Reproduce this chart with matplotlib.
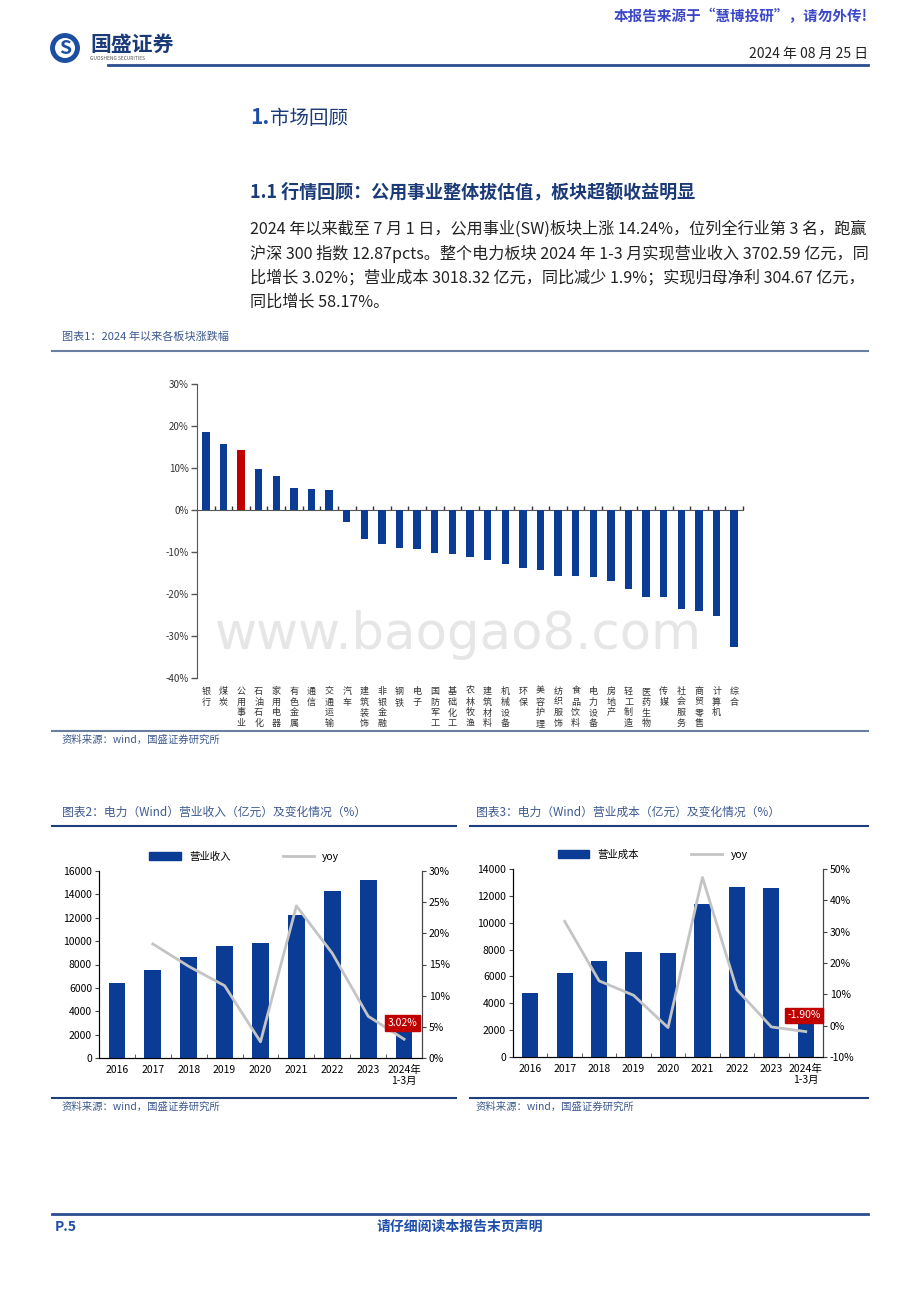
import numpy as np
import matplotlib
matplotlib.use('Agg')
import matplotlib.pyplot as plt
from matplotlib.patches import Patch, Circle
from matplotlib.lines import Line2D
from matplotlib.ticker import FixedLocator

plt.rcParams['font.family'] = ['Noto Sans CJK SC', 'DejaVu Sans']

# chart 1: sector returns since 2024 (%)
sectors = ['银行', '煤炭', '公用事业', '石油石化', '家用电器', '有色金属', '通信', '交通运输',
           '汽车', '建筑装饰', '非银金融', '钢铁', '电子', '国防军工', '基础化工', '农林牧渔',
           '建筑材料', '机械设备', '环保', '美容护理', '纺织服饰', '食品饮料', '电力设备',
           '房地产', '轻工制造', '医药生物', '传媒', '社会服务', '商贸零售', '计算机', '综合']
returns = [18.6, 15.8, 14.24, 9.7, 8.2, 5.3, 5.0, 4.7, -2.9, -6.9, -8.2, -9.0, -9.4,
           -10.2, -10.5, -11.1, -11.8, -12.8, -13.8, -14.2, -15.7, -15.8, -16.0, -16.8,
           -18.8, -20.6, -20.8, -23.5, -24.0, -25.2, -32.5]

# chart 2 / 3: revenue and cost of power sector
years = ['2016', '2017', '2018', '2019', '2020', '2021', '2022', '2023', '2024年\n1-3月']
revenue = [6430, 7570, 8680, 9620, 9850, 12240, 14260, 15200, 3702.59]
revenue_yoy = [np.nan, 18.3, 14.7, 11.6, 2.6, 24.4, 16.8, 6.7, 3.02]
cost = [4750, 6290, 7160, 7810, 7760, 11390, 12680, 12610, 3018.32]
cost_yoy = [np.nan, 33.3, 14.3, 9.7, -0.6, 47.3, 11.5, -0.4, -1.90]

W, H = 920, 1302
BLUE = '#0a3c96'
RED = '#c00000'
NAVY = '#1f3f7a'
CAP = '#3d5a8f'
GRAY = '#c4c4c4'

fig = plt.figure(figsize=(W / 100, H / 100), dpi=100)


def fx(x):
    return x / W


def fy(y):
    return 1 - y / H


def axes_px(l, t, r, b):
    return fig.add_axes([fx(l), fy(b), (r - l) / W, (b - t) / H])


def hline(x0, x1, y, color=NAVY, lw=1.5):
    fig.add_artist(Line2D([fx(x0), fx(x1)], [fy(y), fy(y)], color=color, lw=lw))


# ---- page header ----
fig.text(fx(868), fy(16), '本报告来源于“慧博投研”，请勿外传!', ha='right', va='center',
         fontsize=10.5, fontweight='bold', color='#3c48c8')
logo = axes_px(50, 33, 80, 63)
logo.set_aspect('equal')
logo.set_xlim(-1, 1)
logo.set_ylim(-1, 1)
logo.axis('off')
logo.add_patch(Circle((0, 0), 0.95, color='#1c4fa0'))
logo.add_patch(Circle((0, 0), 0.62, color='white'))
logo.text(0, -0.05, 'S', ha='center', va='center', fontsize=14, fontweight='bold', color='#1c4fa0')
fig.text(fx(90), fy(44), '国盛证券', ha='left', va='center', fontsize=15,
         fontweight='bold', color='#1b3a78')
fig.text(fx(90), fy(58), 'GUOSHENG SECURITIES', ha='left', va='center', fontsize=3.5,
         color='#555555')
fig.text(fx(868), fy(54), '2024 年 08 月 25 日', ha='right', va='center', fontsize=10,
         color='#222222')
hline(108, 868, 65, color='#2b4d8f', lw=2)

fig.text(fx(250), fy(118), '1.', ha='left', va='center', fontsize=15, fontweight='bold',
         color='#1f4ea8')
fig.text(fx(270), fy(118), '市场回顾', ha='left', va='center', fontsize=14, color='#1b3a78')
fig.text(fx(250), fy(192), '1.1 行情回顾：公用事业整体拔估值，板块超额收益明显', ha='left',
         va='center', fontsize=13, fontweight='bold', color='#1b3a78')

body = ['2024 年以来截至 7 月 1 日，公用事业(SW)板块上涨 14.24%，位列全行业第 3 名，跑赢',
        '沪深 300 指数 12.87pcts。整个电力板块 2024 年 1-3 月实现营业收入 3702.59 亿元，同',
        '比增长 3.02%；营业成本 3018.32 亿元，同比减少 1.9%；实现归母净利 304.67 亿元，',
        '同比增长 58.17%。']
for i, line in enumerate(body):
    fig.text(fx(250), fy(229 + i * 24.5), line, ha='left', va='center', fontsize=11.6,
             color='#222222')

# ---- chart 1 ----
fig.text(fx(62), fy(337), '图表1：2024 年以来各板块涨跌幅', ha='left', va='center',
         fontsize=8, color=CAP, style='italic')
hline(52, 868, 351, color='#6a7f9f', lw=1.5)

ax1 = axes_px(197, 384, 743, 678)
ax1.set_facecolor('none')
x = np.arange(len(sectors))
colors = [RED if s == '公用事业' else BLUE for s in sectors]
ax1.bar(x, returns, width=0.42, color=colors, zorder=3)
ax1.set_xlim(-0.5, len(sectors) - 0.5)
ax1.set_ylim(-40, 30)
ax1.set_yticks(np.arange(-40, 31, 10))
ax1.set_yticklabels([f'{v}%' for v in range(-40, 31, 10)], fontsize=7, color='#333333')
ax1.spines['top'].set_visible(False)
ax1.spines['right'].set_visible(False)
ax1.spines['bottom'].set_position(('data', 0))
ax1.spines['left'].set_color('#555555')
ax1.spines['bottom'].set_color('#555555')
ax1.tick_params(axis='y', length=4, width=1, color='#555555', pad=2)
ax1.set_xticks([])
ax1.xaxis.set_minor_locator(FixedLocator(np.arange(0.5, len(sectors), 1)))
ax1.tick_params(axis='x', which='minor', direction='in', length=3, width=1, color='#333333')
for i, s in enumerate(sectors):
    ax1.text(i, -0.03, '\n'.join(s), transform=ax1.get_xaxis_transform(), ha='center',
             va='top', fontsize=6.5, linespacing=1.25, color='#333333')

fig.text(fx(458), fy(635), 'www.baogao8.com', ha='center', va='center', fontsize=37,
         color='#e6e6e6', family='DejaVu Sans', zorder=-5)

hline(52, 868, 731, color='#6a7f9f', lw=1.5)
fig.text(fx(62), fy(740), '资料来源：wind，国盛证券研究所', ha='left', va='center',
         fontsize=7.5, color=CAP, style='italic')


# ---- charts 2 and 3 ----
def combo(box, vals, yoy, bar_label, ymax, ystep, rlim, rstep, tag, tag_y):
    ax = axes_px(*box)
    xs = np.arange(len(years))
    ax.bar(xs, vals, width=0.47, color=BLUE, zorder=2)
    ax.set_xlim(-0.5, len(years) - 0.5)
    ax.set_ylim(0, ymax)
    ax.set_yticks(np.arange(0, ymax + 1, ystep))
    ax.tick_params(axis='y', labelsize=7.5, length=3, color='#444444', pad=2)
    ax.set_xticks(xs)
    ax.set_xticklabels(years, fontsize=7.5, linespacing=1.1)
    ax.tick_params(axis='x', which='major', length=0, pad=5)
    ax.xaxis.set_minor_locator(FixedLocator(np.arange(0.5, len(years) - 1, 1)))
    ax.tick_params(axis='x', which='minor', direction='in', length=3, color='#444444')
    ax.spines['top'].set_visible(False)
    for sp in ['left', 'right', 'bottom']:
        ax.spines[sp].set_color('#444444')
    ax2 = ax.twinx()
    ax2.plot(xs, yoy, color=GRAY, lw=2, zorder=3)
    ax2.set_ylim(*rlim)
    ticks = np.arange(rlim[0], rlim[1] + 0.1, rstep)
    ax2.set_yticks(ticks)
    ax2.set_yticklabels([f'{t:.0f}%' for t in ticks])
    ax2.tick_params(axis='y', labelsize=7.5, length=3, color='#444444', pad=2)
    ax2.spines['top'].set_visible(False)
    ax2.spines['right'].set_color('#444444')
    ax2.text(len(years) - 1.05, tag_y, tag, ha='center', va='center', fontsize=7.5,
             color='white', zorder=5,
             bbox=dict(boxstyle='square,pad=0.25', fc=RED, ec=RED))
    handles = [Patch(color=BLUE), Line2D([], [], color=GRAY, lw=2)]
    ax.legend(handles, [bar_label, 'yoy'], loc='lower center', bbox_to_anchor=(0.45, 1.0),
              ncol=2, frameon=False, fontsize=7.5, handlelength=3, handleheight=0.9,
              columnspacing=5)
    return ax


fig.text(fx(62), fy(812), '图表2：电力（Wind）营业收入（亿元）及变化情况（%）', ha='left',
         va='center', fontsize=8.5, color=CAP, style='italic')
hline(52, 456, 826)
combo((99, 871, 422, 1058), revenue, revenue_yoy, '营业收入', 16000, 2000, (0, 30), 5,
      '3.02%', 5.6)
hline(52, 456, 1098)
fig.text(fx(62), fy(1107), '资料来源：wind，国盛证券研究所', ha='left', va='center',
         fontsize=7.5, color=CAP, style='italic')

fig.text(fx(476), fy(812), '图表3：电力（Wind）营业成本（亿元）及变化情况（%）', ha='left',
         va='center', fontsize=8.5, color=CAP, style='italic')
hline(470, 868, 826)
combo((513, 869, 823, 1057), cost, cost_yoy, '营业成本', 14000, 2000, (-10, 50), 10,
      '-1.90%', 3.3)
hline(470, 868, 1098)
fig.text(fx(476), fy(1107), '资料来源：wind，国盛证券研究所', ha='left', va='center',
         fontsize=7.5, color=CAP, style='italic')

# ---- footer ----
hline(52, 868, 1214, color='#2b4d8f', lw=2)
fig.text(fx(55), fy(1227), 'P.5', ha='left', va='center', fontsize=10, fontweight='bold',
         style='italic', color='#1f4ea8')
fig.text(fx(460), fy(1227), '请仔细阅读本报告末页声明', ha='center', va='center', fontsize=10,
         fontweight='bold', color='#1f4ea8')

fig.savefig('out.png', dpi=100)
